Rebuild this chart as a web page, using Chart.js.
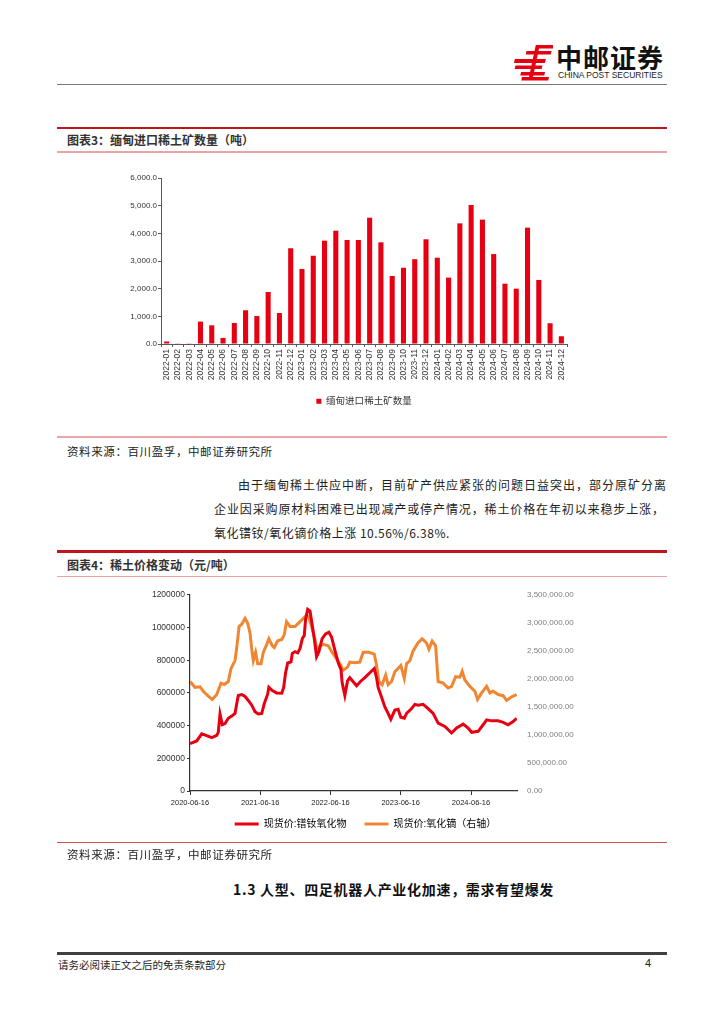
<!DOCTYPE html>
<html>
<head>
<meta charset="utf-8">
<script src="https://cdn.jsdelivr.net/npm/chart.js@4.4.1/dist/chart.umd.min.js"></script>
<style>
  html, body { margin: 0; padding: 0; background: #fff; }
  #page { position: relative; width: 724px; height: 1024px; overflow: hidden; background: #fff;
          font-family: "Noto Sans CJK SC", sans-serif; color: #222; }
  .t { position: absolute; white-space: nowrap; }
  .rule { position: absolute; left: 57px; width: 610px; }
  .just { text-align: justify; text-align-last: justify; }
  canvas { position: absolute; }
</style>
</head>
<body>
<div id="page">
  <!-- header logo -->
  <svg class="t" style="left:511px;top:44px" width="42" height="38" viewBox="0 0 42 38">
    <g fill="#e60012" transform="skewX(-12) translate(6,0)">
      <rect x="20" y="1" width="19" height="3.5"/>
      <rect x="11" y="7" width="25" height="3.5"/>
      <rect x="1" y="15" width="31" height="4"/>
      <rect x="3" y="21.5" width="27" height="3.5"/>
      <rect x="10" y="28" width="24" height="3.5"/>
      <rect x="12" y="33" width="27" height="3.5"/>
      <rect x="19" y="1" width="4" height="35"/>
    </g>
  </svg>
  <div class="t" style="left:556px;top:40px;font-size:26px;line-height:34px;font-weight:bold;color:#111;letter-spacing:1px">中邮证券</div>
  <div class="t" style="left:558px;top:70px;font-family:'Liberation Sans',sans-serif;font-size:8.5px;line-height:11px;color:#222">CHINA POST SECURITIES</div>
  <div class="rule" style="top:83.5px;height:1.2px;background:#7a7a7a"></div>

  <!-- figure 3 -->
  <div class="rule" style="top:126.5px;height:2.5px;background:#c0141c"></div>
  <div class="t" style="left:67px;top:132px;font-size:12px;line-height:16px;font-weight:bold;color:#333">图表3：缅甸进口稀土矿数量（吨）</div>
  <div class="rule" style="top:151px;height:1.5px;background:#e8a5a5"></div>
  <canvas id="barChart" width="610" height="251" style="left:57px;top:165px"></canvas>
  <div class="rule" style="top:436px;height:1.5px;background:#e8a5a5"></div>
  <div class="t" style="left:67px;top:443px;font-size:11.5px;line-height:16px;letter-spacing:0.6px">资料来源：百川盈孚，中邮证券研究所</div>

  <!-- body text -->
  <div class="t just" style="left:238px;top:477px;width:428px;font-size:12px;line-height:16px">由于缅甸稀土供应中断，目前矿产供应紧张的问题日益突出，部分原矿分离</div>
  <div class="t just" style="left:214px;top:501px;width:450px;font-size:12px;line-height:16px">企业因采购原材料困难已出现减产或停产情况，稀土价格在年初以来稳步上涨，</div>
  <div class="t" style="left:214px;top:524.5px;font-size:12px;line-height:16px;letter-spacing:0.5px">氧化镨钕/氧化镝价格上涨 10.56%/6.38%.</div>

  <!-- figure 4 -->
  <div class="rule" style="top:550px;height:2.5px;background:#c0141c"></div>
  <div class="t" style="left:67px;top:557px;font-size:12px;line-height:16px;font-weight:bold;color:#333">图表4：稀土价格变动（元/吨）</div>
  <div class="rule" style="top:575.5px;height:1.5px;background:#e8a5a5"></div>
  <canvas id="priceChart" width="610" height="271" style="left:57px;top:580px"></canvas>
  <div class="rule" style="top:841.5px;height:1.2px;background:#d05050"></div>
  <div class="t" style="left:67px;top:846px;font-size:11.5px;line-height:16px;letter-spacing:0.6px">资料来源：百川盈孚，中邮证券研究所</div>

  <div class="t" style="left:233px;top:879px;font-size:14px;line-height:20px;font-weight:bold;color:#111;letter-spacing:0.7px">1.3 人型、四足机器人产业化加速，需求有望爆发</div>

  <!-- footer -->
  <div class="rule" style="top:952px;height:2.5px;background:#404040"></div>
  <div class="t" style="left:58px;top:957px;font-size:10.5px;line-height:15px">请务必阅读正文之后的免责条款部分</div>
  <div class="t" style="left:645px;top:956px;font-family:'Liberation Sans',sans-serif;font-size:11px;line-height:15px">4</div>
</div>

<script>
// ---- figure 3: Myanmar rare-earth ore imports (tons) ----
const months = [
  '2022-01', '2022-02', '2022-03', '2022-04', '2022-05', '2022-06',
  '2022-07', '2022-08', '2022-09', '2022-10', '2022-11', '2022-12',
  '2023-01', '2023-02', '2023-03', '2023-04', '2023-05', '2023-06',
  '2023-07', '2023-08', '2023-09', '2023-10', '2023-11', '2023-12',
  '2024-01', '2024-02', '2024-03', '2024-04', '2024-05', '2024-06',
  '2024-07', '2024-08', '2024-09', '2024-10', '2024-11', '2024-12'
];
const importTons = [
  90, 25, 25, 810, 675, 220,
  760, 1220, 1010, 1880, 1120, 3460,
  2710, 3190, 3735, 4095, 3760, 3760,
  4565, 3675, 2460, 2755, 3065, 3785,
  3120, 2400, 4360, 5020, 4495, 3250,
  2180, 2000, 4205, 2315, 750, 280
];

// ---- figure 4: rare-earth spot prices (yuan/ton) ----
const tickDates = ['2020-06-16', '2021-06-16', '2022-06-16', '2023-06-16', '2024-06-16'];

const prndDates = [
  '2020-06-16', '2020-07-21', '2020-08-16', '2020-09-07', '2020-10-07', '2020-11-02',
  '2020-11-10', '2020-11-19', '2020-12-01', '2020-12-15', '2021-01-01', '2021-01-19',
  '2021-02-05', '2021-02-14', '2021-02-22', '2021-03-12', '2021-03-29', '2021-04-15',
  '2021-05-03', '2021-05-20', '2021-06-06', '2021-06-24', '2021-07-07', '2021-07-25',
  '2021-07-31', '2021-08-18', '2021-09-09', '2021-10-06', '2021-10-16', '2021-10-26',
  '2021-11-06', '2021-11-23', '2021-11-30', '2021-12-14', '2021-12-28', '2022-01-09',
  '2022-01-21', '2022-01-31', '2022-02-07', '2022-02-18', '2022-03-02', '2022-03-14',
  '2022-03-24', '2022-04-05', '2022-04-17', '2022-05-04', '2022-05-22', '2022-06-08',
  '2022-06-22', '2022-07-09', '2022-07-27', '2022-08-10', '2022-08-16', '2022-08-30',
  '2022-09-13', '2022-09-25', '2022-10-30', '2022-11-22', '2022-12-12', '2023-01-07',
  '2023-01-30', '2023-02-11', '2023-02-19', '2023-03-09', '2023-03-26', '2023-04-12',
  '2023-04-26', '2023-05-17', '2023-06-03', '2023-06-17', '2023-07-05', '2023-07-17',
  '2023-08-12', '2023-08-29', '2023-09-15', '2023-10-11', '2023-11-06', '2023-12-02',
  '2023-12-28', '2024-02-01', '2024-03-07', '2024-04-02', '2024-05-06', '2024-06-01',
  '2024-06-19', '2024-07-23', '2024-08-18', '2024-09-05', '2024-10-01', '2024-11-04',
  '2024-11-30', '2024-12-26', '2025-01-21', '2025-02-08'
];
const prndPrice = [
  290000, 306000, 350000, 340000, 326000, 340000,
  359000, 471000, 405000, 412000, 445000, 458000,
  475000, 534000, 584000, 590000, 578000, 554000,
  525000, 485000, 471000, 474000, 534000, 594000,
  634000, 614000, 600000, 598000, 634000, 723000,
  783000, 790000, 842000, 852000, 845000, 872000,
  932000, 951000, 1051000, 1111000, 1101000, 1011000,
  932000, 822000, 852000, 932000, 961000, 971000,
  941000, 862000, 783000, 743000, 663000, 584000,
  673000, 693000, 644000, 673000, 693000, 723000,
  749000, 693000, 634000, 574000, 514000, 475000,
  439000, 495000, 500000, 451000, 445000, 475000,
  504000, 530000, 525000, 530000, 504000, 475000,
  415000, 395000, 355000, 385000, 409000, 385000,
  359000, 365000, 405000, 435000, 429000, 429000,
  420000, 405000, 425000, 445000
];

const dyDates = [
  '2020-06-16', '2020-07-12', '2020-08-07', '2020-08-24', '2020-09-19', '2020-10-10',
  '2020-11-02', '2020-11-24', '2020-12-11', '2021-01-01', '2021-01-15', '2021-02-05',
  '2021-02-14', '2021-02-26', '2021-03-12', '2021-03-29', '2021-04-12', '2021-04-24',
  '2021-05-03', '2021-05-11', '2021-05-23', '2021-06-03', '2021-06-20', '2021-07-02',
  '2021-07-20', '2021-07-31', '2021-08-18', '2021-08-28', '2021-09-15', '2021-10-06',
  '2021-10-19', '2021-10-31', '2021-11-18', '2021-12-14', '2022-01-09', '2022-01-26',
  '2022-02-12', '2022-02-24', '2022-03-10', '2022-03-28', '2022-04-10', '2022-04-22',
  '2022-05-10', '2022-06-05', '2022-06-25', '2022-07-18', '2022-08-04', '2022-08-22',
  '2022-09-13', '2022-09-25', '2022-10-21', '2022-11-16', '2022-12-03', '2022-12-29',
  '2023-01-30', '2023-02-11', '2023-02-23', '2023-03-12', '2023-03-30', '2023-04-12',
  '2023-04-30', '2023-05-17', '2023-06-17', '2023-07-05', '2023-07-17', '2023-08-03',
  '2023-08-20', '2023-09-15', '2023-10-06', '2023-10-29', '2023-11-10', '2023-11-27',
  '2023-12-15', '2023-12-28', '2024-01-23', '2024-02-18', '2024-03-07', '2024-03-28',
  '2024-04-19', '2024-05-01', '2024-05-15', '2024-06-10', '2024-07-06', '2024-07-20',
  '2024-08-10', '2024-09-05', '2024-09-22', '2024-10-09', '2024-11-04', '2024-11-30',
  '2024-12-18', '2025-01-13', '2025-02-08'
];
const dyPrice = [
  1953000, 1849000, 1860000, 1780000, 1693000, 1634000,
  1721000, 1923000, 1900000, 1953000, 2183000, 2327000,
  2559000, 2934000, 2975000, 3079000, 2990000, 2819000,
  2530000, 2327000, 2472000, 2270000, 2270000, 2472000,
  2616000, 2715000, 2588000, 2559000, 2680000, 2703000,
  2790000, 3020000, 2935000, 2935000, 3020000, 3079000,
  3136000, 3100000, 2934000, 2703000, 2472000, 2588000,
  2616000, 2590000, 2472000, 2356000, 2270000, 2154000,
  2210000, 2299000, 2287000, 2300000, 2472000, 2480000,
  2443000, 2240000, 1953000, 1896000, 2067000, 1896000,
  1953000, 2126000, 2240000, 2010000, 2270000, 2327000,
  2500000, 2646000, 2715000, 2640000, 2530000, 2674000,
  2590000, 1953000, 1925000, 1837000, 1866000, 2039000,
  2030000, 2136000, 1980000, 1866000, 1780000, 1634000,
  1750000, 1866000, 1750000, 1780000, 1721000, 1700000,
  1617000, 1680000, 1721000
];

Chart.defaults.font.family = '"Liberation Sans", "Noto Sans CJK SC", sans-serif';
Chart.defaults.color = '#333';

const axisGrey = '#595959';

new Chart(document.getElementById('barChart'), {
  type: 'bar',
  data: {
    labels: months,
    datasets: [{
      label: '缅甸进口稀土矿数量',
      data: importTons,
      backgroundColor: '#e60012',
      barPercentage: 0.45,
      categoryPercentage: 1
    }]
  },
  options: {
    responsive: false,
    animation: false,
    devicePixelRatio: 1,
    layout: { padding: { top: 13, right: 100, left: 0, bottom: 0 } },
    plugins: {
      tooltip: { enabled: false },
      legend: {
        position: 'bottom',
        fullSize: false,
        labels: { boxWidth: 5, boxHeight: 5, padding: 6, color: '#333', font: { size: 9.5 } }
      }
    },
    scales: {
      x: {
        grid: { drawOnChartArea: false, tickLength: 3, color: axisGrey },
        border: { color: axisGrey },
        ticks: { autoSkip: false, minRotation: 90, maxRotation: 90, padding: 2, font: { size: 8.5 } },
        afterFit: (s) => { s.height = 46.5; }
      },
      y: {
        min: 0,
        max: 6000,
        grid: { drawOnChartArea: false, tickLength: 3, color: axisGrey },
        border: { color: axisGrey },
        ticks: {
          stepSize: 1000,
          padding: 1,
          font: { size: 8 },
          callback: (v) => v.toLocaleString('en-US', { minimumFractionDigits: 1, maximumFractionDigits: 1 })
        },
        afterFit: (s) => { s.width = 104; }
      }
    }
  }
});

const startMs = Date.parse(tickDates[0]);
const dayOf = (s) => (Date.parse(s) - startMs) / 864e5;

// legend keeps wide item spacing but sits closer to the axis labels
const liftLegend = {
  id: 'liftLegend',
  afterLayout(chart) {
    chart.legend.top -= 12;
    chart.legend.bottom -= 12;
    chart.legend.left += 12;
    chart.legend.right += 12;
  }
};

new Chart(document.getElementById('priceChart'), {
  type: 'line',
  plugins: [liftLegend],
  data: {
    datasets: [
      {
        label: '现货价:镨钕氧化物',
        data: prndDates.map((d, i) => ({ x: dayOf(d), y: prndPrice[i] })),
        borderColor: '#e60012',
        backgroundColor: '#e60012',
        borderWidth: 3,
        pointRadius: 0,
        yAxisID: 'y'
      },
      {
        label: '现货价:氧化镝（右轴）',
        data: dyDates.map((d, i) => ({ x: dayOf(d), y: dyPrice[i] })),
        borderColor: '#f08632',
        backgroundColor: '#f08632',
        borderWidth: 3,
        pointRadius: 0,
        yAxisID: 'y1'
      }
    ]
  },
  options: {
    responsive: false,
    animation: false,
    devicePixelRatio: 1,
    layout: { padding: { top: 10, right: 0, left: 0, bottom: 0 } },
    plugins: {
      tooltip: { enabled: false },
      legend: {
        position: 'bottom',
        fullSize: false,
        labels: {
          boxWidth: 24,
          boxHeight: 3,
          padding: 18,
          color: '#222',
          font: { size: 10 },
          generateLabels: (chart) => chart.data.datasets.map((ds, i) => ({
            text: ds.label,
            fillStyle: ds.borderColor,
            strokeStyle: ds.borderColor,
            lineWidth: 0,
            hidden: false,
            datasetIndex: i
          }))
        }
      }
    },
    scales: {
      x: {
        type: 'linear',
        min: 0,
        max: dayOf('2025-02-10'),
        grid: { drawOnChartArea: false, tickLength: 4, color: '#333' },
        border: { color: '#333', width: 1.2 },
        afterBuildTicks: (s) => { s.ticks = tickDates.map((t) => ({ value: dayOf(t) })); },
        ticks: {
          autoSkip: false,
          maxRotation: 0,
          padding: 3,
          font: { size: 7.5 },
          color: '#222',
          callback: (v, i) => tickDates[i]
        },
        afterFit: (s) => { s.height = 22; }
      },
      y: {
        position: 'left',
        min: 0,
        max: 1200000,
        grid: { drawOnChartArea: false, tickLength: 3, color: '#333' },
        border: { color: '#333', width: 1.2 },
        ticks: { stepSize: 200000, padding: 2, font: { size: 8.5 }, color: '#333', callback: (v) => String(v) },
        afterFit: (s) => { s.width = 133; }
      },
      y1: {
        position: 'right',
        min: 0,
        max: 3500000,
        grid: { display: false, drawTicks: false },
        border: { display: false },
        ticks: {
          stepSize: 500000,
          padding: 10,
          font: { size: 8 },
          color: '#7f7f7f',
          callback: (v) => v.toLocaleString('en-US', { minimumFractionDigits: 2, maximumFractionDigits: 2 })
        },
        afterFit: (s) => { s.width = 150; }
      }
    }
  }
});
</script>
</body>
</html>
